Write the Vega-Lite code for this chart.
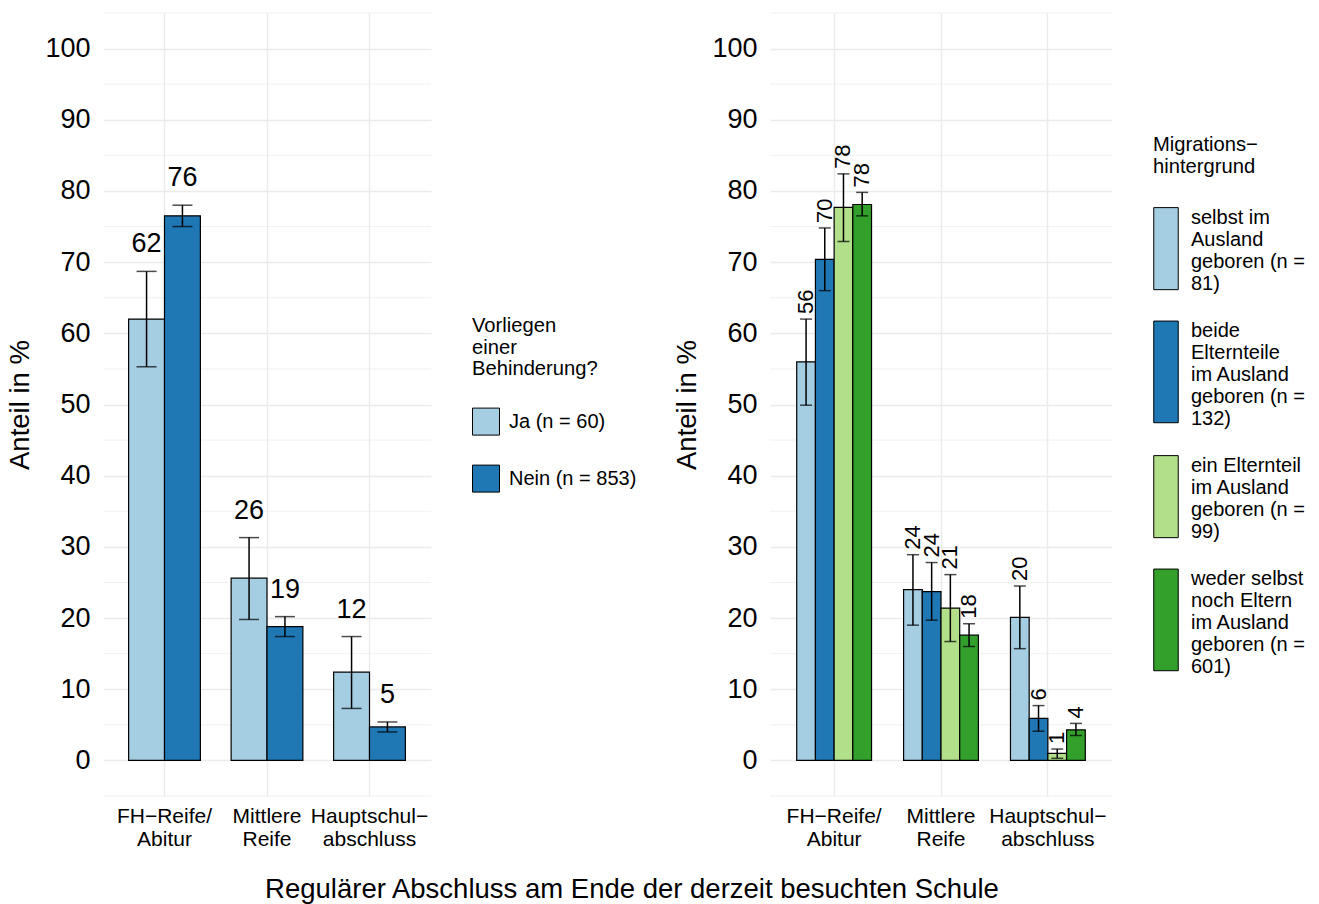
{
  "$schema": "https://vega.github.io/schema/vega-lite/v6.json",
  "padding": {"left": 6, "top": 12, "right": 5, "bottom": 5},
  "background": "white",
  "config": {
    "font": "Liberation Sans",
    "view": {"stroke": null},
    "axis": {"domain": false, "ticks": false, "tickSize": 0, "labelColor": "#000", "titleColor": "#000", "gridColor": "#EBEBEB", "gridWidth": 1.4},
    "legend": {"titleColor": "#000", "labelColor": "#000", "titleFontWeight": "normal", "titleFontSize": 20.2, "labelFontSize": 20, "titleLineHeight": 21.7, "labelLineHeight": 20.5, "symbolStrokeColor": "black", "symbolStrokeWidth": 1, "symbolOpacity": 1}
  },
  "title": {"text": "Regulärer Abschluss am Ende der derzeit besuchten Schule", "orient": "bottom", "anchor": "middle", "fontSize": 27.5, "fontWeight": "normal", "color": "#000", "offset": 27, "dx": -24},
  "datasets": {
    "minor": [{"v": -5}, {"v": 5}, {"v": 15}, {"v": 25}, {"v": 35}, {"v": 45}, {"v": 55}, {"v": 65}, {"v": 75}, {"v": 85}, {"v": 95}, {"v": 105}],
    "left": [
      {"abschluss": "FH−Reife/|Abitur", "gruppe": "Ja (n = 60)", "wert": 62.0, "lower": 55.3, "upper": 68.7, "label": "62"},
      {"abschluss": "FH−Reife/|Abitur", "gruppe": "Nein (n = 853)", "wert": 76.5, "lower": 75.0, "upper": 78.0, "label": "76"},
      {"abschluss": "Mittlere|Reife", "gruppe": "Ja (n = 60)", "wert": 25.6, "lower": 19.8, "upper": 31.3, "label": "26"},
      {"abschluss": "Mittlere|Reife", "gruppe": "Nein (n = 853)", "wert": 18.8, "lower": 17.4, "upper": 20.2, "label": "19"},
      {"abschluss": "Hauptschul−|abschluss", "gruppe": "Ja (n = 60)", "wert": 12.4, "lower": 7.3, "upper": 17.4, "label": "12"},
      {"abschluss": "Hauptschul−|abschluss", "gruppe": "Nein (n = 853)", "wert": 4.7, "lower": 4.0, "upper": 5.4, "label": "5"}
    ],
    "right": [
      {"abschluss": "FH−Reife/|Abitur", "gruppe": "selbst im|Ausland|geboren (n =|81)", "wert": 56.0, "lower": 49.9, "upper": 62.0, "label": "56"},
      {"abschluss": "FH−Reife/|Abitur", "gruppe": "beide|Elternteile|im Ausland|geboren (n =|132)", "wert": 70.4, "lower": 66.0, "upper": 74.8, "label": "70"},
      {"abschluss": "FH−Reife/|Abitur", "gruppe": "ein Elternteil|im Ausland|geboren (n =|99)", "wert": 77.7, "lower": 72.9, "upper": 82.4, "label": "78"},
      {"abschluss": "FH−Reife/|Abitur", "gruppe": "weder selbst|noch Eltern|im Ausland|geboren (n =|601)", "wert": 78.1, "lower": 76.5, "upper": 79.8, "label": "78"},
      {"abschluss": "Mittlere|Reife", "gruppe": "selbst im|Ausland|geboren (n =|81)", "wert": 24.0, "lower": 19.0, "upper": 28.9, "label": "24"},
      {"abschluss": "Mittlere|Reife", "gruppe": "beide|Elternteile|im Ausland|geboren (n =|132)", "wert": 23.7, "lower": 19.7, "upper": 27.8, "label": "24"},
      {"abschluss": "Mittlere|Reife", "gruppe": "ein Elternteil|im Ausland|geboren (n =|99)", "wert": 21.4, "lower": 16.7, "upper": 26.1, "label": "21"},
      {"abschluss": "Mittlere|Reife", "gruppe": "weder selbst|noch Eltern|im Ausland|geboren (n =|601)", "wert": 17.6, "lower": 16.0, "upper": 19.2, "label": "18"},
      {"abschluss": "Hauptschul−|abschluss", "gruppe": "selbst im|Ausland|geboren (n =|81)", "wert": 20.1, "lower": 15.7, "upper": 24.5, "label": "20"},
      {"abschluss": "Hauptschul−|abschluss", "gruppe": "beide|Elternteile|im Ausland|geboren (n =|132)", "wert": 5.9, "lower": 4.1, "upper": 7.7, "label": "6"},
      {"abschluss": "Hauptschul−|abschluss", "gruppe": "ein Elternteil|im Ausland|geboren (n =|99)", "wert": 1.0, "lower": 0.3, "upper": 1.6, "label": "1"},
      {"abschluss": "Hauptschul−|abschluss", "gruppe": "weder selbst|noch Eltern|im Ausland|geboren (n =|601)", "wert": 4.3, "lower": 3.5, "upper": 5.2, "label": "4"}
    ]
  },
  "spacing": 36,
  "resolve": {"scale": {"color": "independent", "xOffset": "independent", "x": "independent", "y": "independent"}, "legend": {"color": "independent"}},
  "hconcat": [
    {
      "width": 328,
      "height": 783,
      "layer": [
        {
          "data": {"name": "minor"},
          "mark": {"type": "rule", "color": "#EBEBEB", "strokeWidth": 0.7},
          "encoding": {"y": {"field": "v", "type": "quantitative", "scale": {"domain": [-5, 105], "nice": false, "zero": false},
            "axis": {"title": "Anteil in %", "values": [0, 10, 20, 30, 40, 50, 60, 70, 80, 90, 100], "grid": true, "labelFontSize": 27, "titleFontSize": 27.5, "titleFontWeight": "normal", "labelPadding": 13, "titlePadding": 10}}}
        },
        {
          "data": {"name": "left"},
          "encoding": {
            "x": {"field": "abschluss", "type": "nominal", "scale": {"type": "band", "domain": ["FH−Reife/|Abitur", "Mittlere|Reife", "Hauptschul−|abschluss"], "paddingInner": 0.3, "paddingOuter": 0.25},
              "axis": {"title": null, "labelExpr": "split(datum.label, '|')", "grid": true, "bandPosition": 0.5, "labelAngle": 0, "labelFontSize": 21, "labelPadding": 9, "labelLineHeight": 23, "labelBaseline": "top"}},
            "xOffset": {"field": "gruppe", "type": "nominal", "scale": {"type": "band", "domain": ["Ja (n = 60)", "Nein (n = 853)"], "paddingInner": 0, "paddingOuter": 0}}
          },
          "layer": [
            {
              "mark": {"type": "bar", "stroke": "black", "strokeWidth": 1.2},
              "encoding": {
                "y": {"field": "wert", "type": "quantitative", "scale": {"domain": [-5, 105], "nice": false, "zero": false},
                  "axis": {"title": "Anteil in %", "values": [0, 10, 20, 30, 40, 50, 60, 70, 80, 90, 100], "grid": true, "labelFontSize": 27, "titleFontSize": 27.5, "titleFontWeight": "normal", "labelPadding": 13, "titlePadding": 10}},
                "y2": {"datum": 0},
                "color": {"field": "gruppe", "type": "nominal", "scale": {"domain": ["Ja (n = 60)", "Nein (n = 853)"], "range": ["#A6CEE3", "#1F78B4"]},
                  "legend": {"title": ["Vorliegen", "einer", "Behinderung?"], "orient": "none", "legendX": 369, "legendY": 303, "symbolType": "square", "symbolSize": 729, "titlePadding": 28, "rowPadding": 25, "labelOffset": 9}}
              }
            },
            {
              "mark": {"type": "rule", "color": "black", "strokeWidth": 1.5},
              "encoding": {
                "y": {"field": "lower", "type": "quantitative", "title": "Anteil in %"},
                "y2": {"field": "upper"}
              }
            },
            {
              "mark": {"type": "tick", "color": "black", "thickness": 1.5, "size": 20},
              "encoding": {"y": {"field": "lower", "type": "quantitative", "title": "Anteil in %"}}
            },
            {
              "mark": {"type": "tick", "color": "black", "thickness": 1.5, "size": 20},
              "encoding": {"y": {"field": "upper", "type": "quantitative", "title": "Anteil in %"}}
            },
            {
              "mark": {"type": "text", "fontSize": 27, "baseline": "alphabetic", "dy": -19, "color": "black"},
              "encoding": {
                "y": {"field": "upper", "type": "quantitative", "title": "Anteil in %"},
                "text": {"field": "label"}
              }
            }
          ]
        }
      ]
    },
    {
      "width": 342,
      "height": 783,
      "layer": [
        {
          "data": {"name": "minor"},
          "mark": {"type": "rule", "color": "#EBEBEB", "strokeWidth": 0.7},
          "encoding": {"y": {"field": "v", "type": "quantitative", "scale": {"domain": [-5, 105], "nice": false, "zero": false},
            "axis": {"title": "Anteil in %", "values": [0, 10, 20, 30, 40, 50, 60, 70, 80, 90, 100], "grid": true, "labelFontSize": 27, "titleFontSize": 27.5, "titleFontWeight": "normal", "labelPadding": 13, "titlePadding": 10}}}
        },
        {
          "data": {"name": "right"},
          "encoding": {
            "x": {"field": "abschluss", "type": "nominal", "scale": {"type": "band", "domain": ["FH−Reife/|Abitur", "Mittlere|Reife", "Hauptschul−|abschluss"], "paddingInner": 0.3, "paddingOuter": 0.25},
              "axis": {"title": null, "labelExpr": "split(datum.label, '|')", "grid": true, "bandPosition": 0.5, "labelAngle": 0, "labelFontSize": 21, "labelPadding": 9, "labelLineHeight": 23, "labelBaseline": "top"}},
            "xOffset": {"field": "gruppe", "type": "nominal", "scale": {"type": "band", "domain": ["selbst im|Ausland|geboren (n =|81)", "beide|Elternteile|im Ausland|geboren (n =|132)", "ein Elternteil|im Ausland|geboren (n =|99)", "weder selbst|noch Eltern|im Ausland|geboren (n =|601)"], "paddingInner": 0, "paddingOuter": 0}}
          },
          "layer": [
            {
              "mark": {"type": "bar", "stroke": "black", "strokeWidth": 1.2},
              "encoding": {
                "y": {"field": "wert", "type": "quantitative", "scale": {"domain": [-5, 105], "nice": false, "zero": false},
                  "axis": {"title": "Anteil in %", "values": [0, 10, 20, 30, 40, 50, 60, 70, 80, 90, 100], "grid": true, "labelFontSize": 27, "titleFontSize": 27.5, "titleFontWeight": "normal", "labelPadding": 13, "titlePadding": 10}},
                "y2": {"datum": 0},
                "color": {"field": "gruppe", "type": "nominal", "scale": {"domain": ["selbst im|Ausland|geboren (n =|81)", "beide|Elternteile|im Ausland|geboren (n =|132)", "ein Elternteil|im Ausland|geboren (n =|99)", "weder selbst|noch Eltern|im Ausland|geboren (n =|601)"], "range": ["#A6CEE3", "#1F78B4", "#B2DF8A", "#33A02C"]},
                  "legend": {"title": ["Migrations−", "hintergrund"], "orient": "none", "legendX": 383, "legendY": 122, "labelExpr": "split(datum.label, '|')", "symbolType": "M-1,-3.35H1V3.35H-1Z", "symbolSize": 600, "titlePadding": 28, "rowPadding": 24, "labelOffset": 12,
                    "encode": {"symbols": {"update": {
                      "shape": {"signal": "datum.index % 2 == 1 ? 'M-1,-4.15H1V4.15H-1Z' : 'M-1,-3.35H1V3.35H-1Z'"},
                      "y": {"signal": "datum.size / 2 + (datum.index % 2 == 1 ? 41 : 30.75)"}}}}}}
              }
            },
            {
              "mark": {"type": "rule", "color": "black", "strokeWidth": 1.5},
              "encoding": {
                "y": {"field": "lower", "type": "quantitative", "title": "Anteil in %"},
                "y2": {"field": "upper"}
              }
            },
            {
              "mark": {"type": "tick", "color": "black", "thickness": 1.5, "size": 12},
              "encoding": {"y": {"field": "lower", "type": "quantitative", "title": "Anteil in %"}}
            },
            {
              "mark": {"type": "tick", "color": "black", "thickness": 1.5, "size": 12},
              "encoding": {"y": {"field": "upper", "type": "quantitative", "title": "Anteil in %"}}
            },
            {
              "mark": {"type": "text", "fontSize": 22, "angle": 270, "align": "left", "baseline": "middle", "dx": 5, "color": "black"},
              "encoding": {
                "y": {"field": "upper", "type": "quantitative", "title": "Anteil in %"},
                "text": {"field": "label"}
              }
            }
          ]
        }
      ]
    }
  ]
}
